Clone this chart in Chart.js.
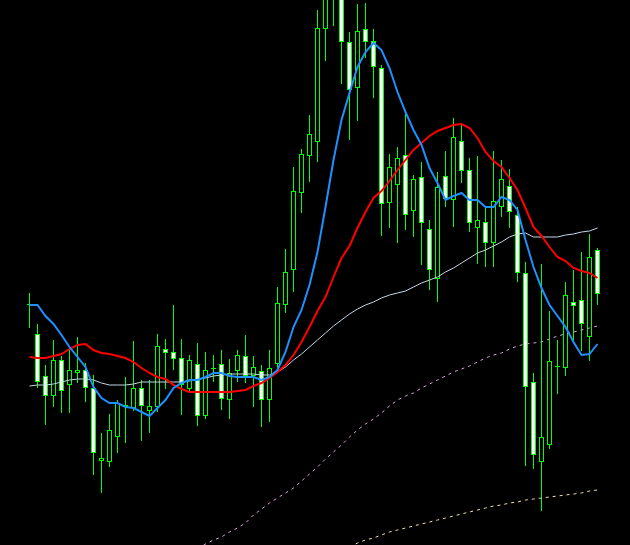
<!DOCTYPE html>
<html>
<head>
<meta charset="utf-8">
<script src="https://cdn.jsdelivr.net/npm/chart.js@4.4.0/dist/chart.umd.min.js"></script>
<style>
  html,
  body {
    margin: 0;
    padding: 0;
    background: #000;
  }
  #grafico-wrap {
    width: 630px;
    height: 545px;
  }
</style>
</head>
<body>
<div id="grafico-wrap"><canvas id="grafico" width="630" height="545"></canvas></div>
<script>
// candles (price in points)
const opens = [
  240, 211, 169, 149, 185, 160, 172, 175, 157, 84,
  83, 108, 138, 137, 157, 134, 138, 196, 193, 187,
  156, 181, 129, 177, 181, 145, 174, 189, 169, 174,
  145, 181, 240, 275, 352, 389, 403, 516, 555, 553,
  503, 457, 516, 504, 477, 342, 360, 390, 334, 368,
  316, 266, 369, 345, 404, 375, 317, 323, 302, 338,
  359, 330, 272, 163, 83, 100, 178, 177, 243, 245,
  208, 295,
];
const highs = [
  252, 221, 180, 205, 189, 195, 208, 182, 170, 112,
  131, 145, 168, 204, 165, 165, 211, 206, 240, 206,
  190, 202, 193, 190, 195, 186, 195, 210, 189, 180,
  195, 258, 296, 378, 396, 430, 535, 560, 575, 565,
  513, 541, 542, 516, 480, 391, 398, 432, 370, 383,
  325, 373, 394, 427, 422, 387, 389, 339, 394, 385,
  376, 338, 283, 172, 281, 234, 205, 263, 275, 293,
  311, 297,
];
const lows = [
  217, 157, 120, 138, 132, 132, 162, 143, 70, 52,
  78, 92, 102, 134, 104, 112, 133, 156, 175, 130,
  152, 119, 126, 163, 135, 126, 163, 162, 138, 118,
  123, 175, 232, 253, 332, 363, 383, 484, 519, 461,
  405, 424, 487, 447, 309, 317, 302, 315, 308, 280,
  255, 243, 338, 318, 362, 313, 281, 278, 278, 328,
  317, 263, 79, 76, 34, 96, 151, 169, 202, 194,
  184, 240,
];
const closes = [
  240, 163, 149, 185, 154, 175, 175, 157, 92, 87,
  115, 142, 140, 157, 139, 139, 199, 192, 186, 160,
  185, 129, 175, 176, 146, 172, 190, 169, 178, 145,
  177, 242, 273, 354, 391, 411, 517, 550, 565, 503,
  455, 514, 503, 478, 341, 378, 387, 330, 366, 322,
  275, 358, 346, 408, 374, 322, 325, 302, 344, 366,
  333, 272, 158, 90, 108, 184, 178, 250, 239, 221,
  288, 251,
];

// moving averages
const maRapida = [
  240, 240, 229, 221, 210, 198, 188, 178, 158, 147,
  142, 142, 138, 137, 133, 129, 137, 145, 157, 162,
  165, 165, 168, 172, 172, 169, 168, 168, 168, 165,
  168, 175, 193, 218, 235, 260, 293, 338, 385, 425,
  452, 478, 493, 502, 495, 477, 453, 433, 415, 400,
  377, 362, 345, 349, 352, 345, 345, 338, 338, 348,
  345, 335, 305, 278, 257, 240, 229, 218, 203, 190,
  191, 201,
];
const maMedia = [
  188, 187, 187, 189, 191, 196, 200, 201, 195, 192,
  191, 189, 187, 183, 177, 172, 168, 166, 160, 156,
  153, 153, 153, 153, 153, 153, 154, 155, 159, 162,
  167, 173, 180, 190, 203, 218, 234, 248, 268, 287,
  299, 317, 333, 347, 354, 364, 375, 385, 395, 402,
  409, 414, 417, 420, 421, 417, 407, 393, 384, 378,
  367, 355, 337, 318, 309, 298, 288, 284, 277, 274,
  272, 267,
];
const maLenta = [
  159, 160, 160, 161, 163, 165, 166, 166, 165, 162,
  160, 160, 160, 161, 163, 163, 163, 163, 163, 163,
  164, 166, 167, 169, 170, 171, 171, 171, 171, 170,
  170, 173, 178, 185, 191, 198, 205, 212, 219, 225,
  231, 236, 240, 243, 247, 250, 252, 254, 258, 262,
  265, 268, 273, 277, 282, 287, 292, 295, 299, 303,
  308, 311, 312, 308, 308, 308, 308, 310, 311, 313,
  314, 317,
];
const inicioPlum = 21;
const maPlum = [
  -4, 1, 5, 8, 13, 17, 22, 30, 36, 42,
  47, 52, 57, 64, 71, 78, 86, 93, 100, 108,
  115, 121, 126, 132, 139, 145, 149, 152, 157, 161,
  165, 169, 173, 176, 179, 183, 187, 190, 192, 196,
  199, 201, 202, 203, 206, 209, 211, 213, 215, 217,
  219,
];
const inicioTrigo = 40;
const maTrigo = [
  -2, 2, 5, 7, 10, 13, 15, 17, 19, 21,
  23, 25, 27, 29, 31, 33, 35, 37, 39, 40,
  42, 43, 45, 46, 47, 48, 49, 50, 51, 52,
  54, 55,
];

const verde = "#00FF00";

const corpos = opens.map((o, i) => ({ x: i, y: [Math.min(o, closes[i]), Math.max(o, closes[i])] }));
const pavios = lows.map((l, i) => ({ x: i, y: [l, highs[i]] }));
const coresCorpo = opens.map((o, i) => (closes[i] < o ? "#FFFFFF" : "#000000"));

function serie(valores, inicio) {
  return valores.map((v, k) => ({ x: inicio + k, y: v }));
}

function linha(valores, inicio, cor, largura, tracejado, ordem) {
  return {
    type: "line",
    data: serie(valores, inicio),
    borderColor: cor,
    borderWidth: largura,
    borderDash: tracejado,
    pointRadius: 0,
    tension: 0,
    fill: false,
    order: ordem,
  };
}

const ctx = document.getElementById("grafico").getContext("2d");

new Chart(ctx, {
  type: "bar",
  data: {
    datasets: [
      linha(maRapida, 0, "#1E90FF", 2, [], 0),
      linha(maMedia, 0, "#FF0000", 2, [], 1),
      linha(maLenta, 0, "#C4D6E6", 1, [], 2),
      linha(maPlum, inicioPlum, "#DDA0DD", 1, [3, 4], 3),
      linha(maTrigo, inicioTrigo, "#F5DEB3", 1, [3, 4], 4),
      {
        data: corpos,
        backgroundColor: coresCorpo,
        borderColor: verde,
        borderWidth: 1,
        borderSkipped: false,
        barThickness: 5,
        minBarLength: 1,
        inflateAmount: 0,
        grouped: false,
        order: 5,
      },
      {
        data: pavios,
        backgroundColor: verde,
        borderWidth: 0,
        barThickness: 1,
        inflateAmount: 0,
        grouped: false,
        order: 6,
      },
    ],
  },
  options: {
    responsive: false,
    animation: false,
    devicePixelRatio: 1,
    layout: { padding: 0 },
    plugins: {
      legend: { display: false },
      tooltip: { enabled: false },
    },
    scales: {
      x: {
        type: "linear",
        display: false,
        offset: false,
        min: -3.6875,
        max: 75.0625,
      },
      y: {
        display: false,
        min: 0,
        max: 545,
      },
    },
  },
});
</script>
</body>
</html>
